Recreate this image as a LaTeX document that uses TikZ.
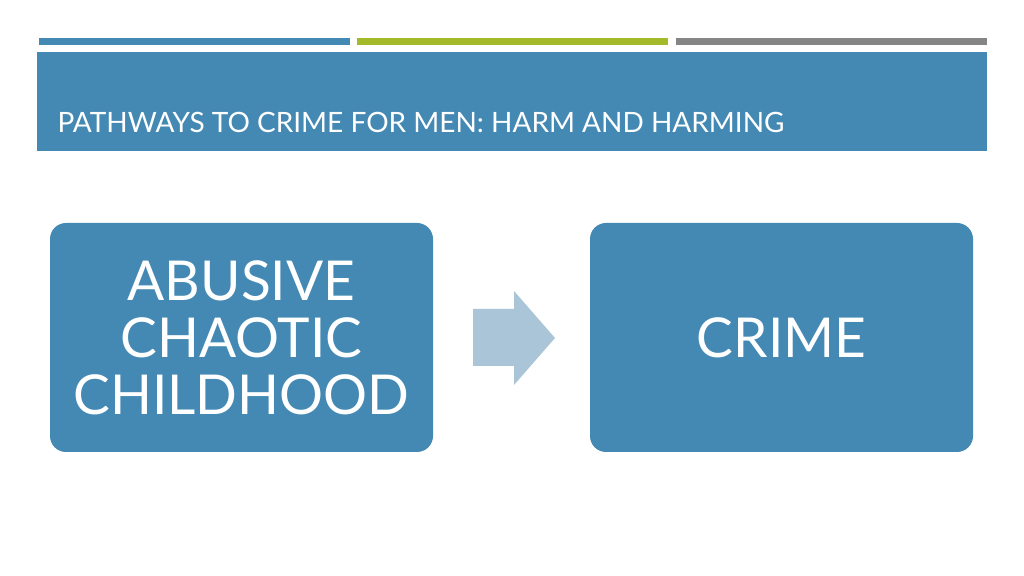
\documentclass[tikz,border=0pt]{standalone}
\usepackage{fontspec}
\setmainfont{Lato}
\usetikzlibrary{
	arrows.meta,
	calc,
	positioning
}
\definecolor{hdblue}{HTML}{4389B4}
\definecolor{hdgreen}{HTML}{A5BA2B}
\definecolor{hdgray}{HTML}{858585}
\definecolor{arrowblue}{HTML}{AAC4D8}
\tikzset{every path/.append style={line width=0.5pt}}
\tikzset{
	topbar/.style={inner sep=0pt,minimum height=3.5pt,minimum width=155.5pt,anchor=north west},
	stepbox/.style={rounded corners=8pt,fill=hdblue,text=white,minimum width=191.5pt,
		minimum height=114.5pt,align=center,font=\fontsize{27.5}{28.5}\selectfont,inner sep=0pt}
}

\begin{document}
\begin{tikzpicture}[x=0.5pt,y=-0.5pt]
	\useasboundingbox[fill=white] (0,0) rectangle (1024,576);

	\node (barA) at (38,38)  [topbar,fill=hdblue]  {};
	\node (barB) at (356,38) [topbar,fill=hdgreen] {};
	\node (barC) at (675,38) [topbar,fill=hdgray]  {};

	\fill[hdblue] (37,52) rectangle (987,151);
	\node (title) at (57,133) [anchor=base west,text=white,inner sep=0pt,
		font=\fontsize{14}{16}\selectfont] {PATHWAYS TO CRIME FOR MEN: HARM AND HARMING};

	\node (childhood) at (241.5,337.5) [stepbox] {ABUSIVE\\CHAOTIC\\CHILDHOOD};
	\node (crime) at (781.5,337.5) [stepbox] {CRIME};

	% block arrow between the two boxes
	\fill[arrowblue] (473,309) -- (514,309) -- (514,291) -- (555,338)
		-- (514,385) -- (514,366) -- (473,366) -- cycle;
\end{tikzpicture}
\end{document}
